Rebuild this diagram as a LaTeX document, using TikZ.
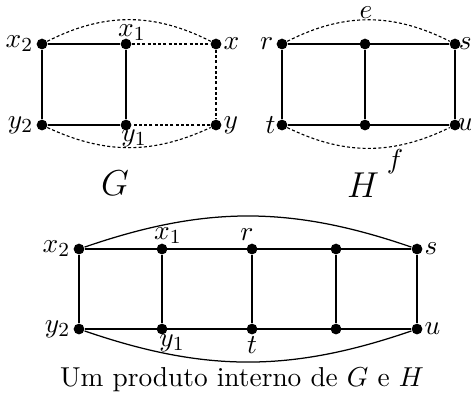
\documentclass[tikz,border=0pt,11pt]{standalone}
\usetikzlibrary{positioning}
\tikzset{
  vtx/.style={circle, fill=black, inner sep=0pt, minimum size=4.3pt},
  edge/.style={line width=0.5pt},
  dotedge/.style={line width=0.45pt, dash pattern=on 1.2pt off 0.9pt},
  lbl/.style={inner sep=1pt},
  gname/.style={font=\Large},
}
\begin{document}
\begin{tikzpicture}[x=0.4pt, y=0.4pt]
  \useasboundingbox (0,0) rectangle (471,-396);
  % graph G
  \node[vtx, label={[lbl]left:$x_2$}] (gx2) at (42,-44) {};
  \node[vtx] (gx1) at (126,-44) {};
  \node[vtx, label={[lbl, inner sep=0.5pt]right:$x$}] (gx) at (216,-44) {};
  \node[vtx, label={[lbl]left:$y_2$}] (gy2) at (42,-125) {};
  \node[vtx] (gy1) at (126,-125) {};
  \node[vtx, label={[lbl, inner sep=0.5pt]right:$y$}] (gy) at (216,-125) {};
  \node[lbl] at (132,-33) {$x_1$};
  \node[lbl] at (134,-138) {$y_1$};
  \draw[edge] (gx2) -- (gx1) -- (gy1) -- (gy2) -- (gx2);
  \draw[dotedge] (gx1) -- (gx) -- (gy) -- (gy1);
  \draw[dotedge] (gx2) to[bend left=27] (gx);
  \draw[dotedge] (gy2) to[bend right=25] (gy);
  \node[gname] (gtitle) at (115,-183) {$G$};
  % graph H
  \node[vtx, label={[lbl]left:$r$}] (hr) at (282,-44) {};
  \node[vtx] (hm1) at (365,-44) {};
  \node[vtx, label={[lbl, inner sep=0pt, xshift=-1pt]right:$s$}] (hs) at (455,-44) {};
  \node[vtx, label={[lbl, inner sep=0pt]left:$t$}] (ht) at (282,-125) {};
  \node[vtx] (hm2) at (365,-125) {};
  \node[vtx, label={[lbl, inner sep=0pt, xshift=-1.5pt]right:$u$}] (hu) at (455,-125) {};
  \draw[edge] (hr) -- (hs) -- (hu) -- (ht) -- (hr);
  \draw[edge] (hm1) -- (hm2);
  \draw[dotedge] (hr) to[bend left=27] (hs);
  \draw[dotedge] (ht) to[bend right=26] (hu);
  \node[lbl, inner sep=0pt] (elbl) at (366,-13) {$e$};
  \node[lbl] (flbl) at (395,-162) {$f$};
  \node[gname] (htitle) at (363,-185) {$H$};
  % inner product
  \node[vtx, label={[lbl]left:$x_2$}] (px2) at (79,-249) {};
  \node[vtx] (px1) at (162,-249) {};
  \node[vtx] (pr) at (252,-249) {};
  \node[vtx] (pm1) at (336,-249) {};
  \node[vtx, label={[lbl, inner sep=0.5pt]right:$s$}] (ps) at (417,-249) {};
  \node[vtx, label={[lbl]left:$y_2$}] (py2) at (79,-329) {};
  \node[vtx] (py1) at (162,-329) {};
  \node[vtx] (pt) at (252,-329) {};
  \node[vtx] (pm2) at (336,-329) {};
  \node[vtx, label={[lbl, inner sep=0.5pt]right:$u$}] (pu) at (417,-329) {};
  \node[lbl] at (168,-236) {$x_1$};
  \node[lbl] at (247,-235) {$r$};
  \node[lbl] at (172,-343) {$y_1$};
  \node[lbl] at (252,-345) {$t$};
  \draw[edge] (px2) -- (ps) -- (pu) -- (py2) -- (px2);
  \draw[edge] (px1) -- (py1) (pr) -- (pt) (pm1) -- (pm2);
  \draw[edge] (px2) to[bend left=19] (ps);
  \draw[edge] (py2) to[bend right=19] (pu);
  \node (caption) at (242,-380) {Um produto interno de $G$ e $H$};
\end{tikzpicture}
\end{document}
